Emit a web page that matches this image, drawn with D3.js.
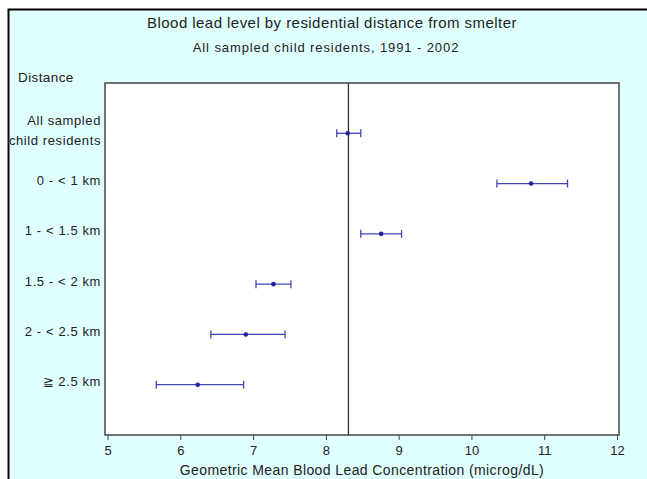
<!DOCTYPE html>
<html>
<head>
<meta charset="utf-8">
<script src="https://cdn.jsdelivr.net/npm/d3@7"></script>
<style>
  body { margin: 0; background: #fff; }
  svg { display: block; font-family: "Liberation Sans", Arial, sans-serif; }
</style>
</head>
<body>
<svg width="647" height="479"></svg>
<script>
// categories top to bottom
var distances = ["All sampled|child residents", "0 - < 1 km", "1 - < 1.5 km", "1.5 - < 2 km", "2 - < 2.5 km", "\u2267 2.5 km"];
// geometric mean and 95% CI (microg/dL)
var means = [8.30, 10.82, 8.76, 7.28, 6.90, 6.24];
var lower = [8.15, 10.35, 8.48, 7.04, 6.42, 5.67];
var upper = [8.48, 11.32, 9.04, 7.52, 7.44, 6.87];
var refValue = 8.31;
var xTicks = [5, 6, 7, 8, 9, 10, 11, 12];

var svg = d3.select("svg");

var plot = { left: 105, right: 619, top: 83, bottom: 435 };

// background panel
svg.append("rect")
    .attr("x", 8).attr("y", 9)
    .attr("width", 647).attr("height", 480)
    .attr("fill", "#e0ffff");
svg.append("path")
    .attr("d", "M8.5,479V9.5H647")
    .attr("fill", "none")
    .attr("stroke", "#000")
    .attr("stroke-width", 2);

svg.append("rect")
    .attr("x", plot.left).attr("y", plot.top)
    .attr("width", plot.right - plot.left).attr("height", plot.bottom - plot.top)
    .attr("fill", "#fff")
    .attr("stroke", "#444")
    .attr("stroke-width", 1.5);

var x = d3.scaleLinear().domain([5, 12]).range([107.5, 617]);
var y = d3.scalePoint().domain(distances).range([plot.top, plot.bottom]).padding(1);

// x axis
var xAxis = svg.append("g")
    .attr("transform", "translate(0," + plot.bottom + ")")
    .call(d3.axisBottom(x).tickValues(xTicks).tickSize(5).tickSizeOuter(0).tickFormat(d3.format("d")));
xAxis.select(".domain").remove();
xAxis.selectAll("line").attr("stroke", "#444");
xAxis.selectAll("text")
    .attr("font-size", 13)
    .attr("font-family", "Liberation Sans, Arial, sans-serif")
    .attr("fill", "#222")
    .attr("dy", "0.9em");

// y labels
distances.forEach(function(d) {
    var lines = d.split("|");
    var t = svg.append("text")
        .attr("x", 101)
        .attr("text-anchor", "end")
        .attr("font-size", 13)
        .attr("letter-spacing", 0.6)
        .attr("fill", "#222");
    lines.forEach(function(l, i) {
        t.append("tspan")
            .attr("x", 101)
            .attr("y", y(d) - 3 + (i - (lines.length - 1) / 2) * 20)
            .attr("dy", "0.35em")
            .text(l);
    });
});

// reference line
svg.append("line")
    .attr("x1", x(refValue)).attr("x2", x(refValue))
    .attr("y1", plot.top).attr("y2", plot.bottom)
    .attr("stroke", "#333")
    .attr("stroke-width", 1.3);

// error bars
var bars = svg.selectAll(".ci")
    .data(distances)
    .enter()
    .append("g")
    .attr("class", "ci");

bars.append("line")
    .attr("x1", (d, i) => x(lower[i])).attr("x2", (d, i) => x(upper[i]))
    .attr("y1", d => y(d)).attr("y2", d => y(d))
    .attr("stroke", "#4444b8").attr("stroke-width", 1.3);
bars.append("line")
    .attr("x1", (d, i) => x(lower[i])).attr("x2", (d, i) => x(lower[i]))
    .attr("y1", d => y(d) - 4).attr("y2", d => y(d) + 4)
    .attr("stroke", "#4444b8").attr("stroke-width", 1.3);
bars.append("line")
    .attr("x1", (d, i) => x(upper[i])).attr("x2", (d, i) => x(upper[i]))
    .attr("y1", d => y(d) - 4).attr("y2", d => y(d) + 4)
    .attr("stroke", "#4444b8").attr("stroke-width", 1.3);
bars.append("circle")
    .attr("cx", (d, i) => x(means[i]))
    .attr("cy", d => y(d))
    .attr("r", 2.3)
    .attr("fill", "#2222a0");

// titles
svg.append("text")
    .attr("x", 332).attr("y", 28)
    .attr("text-anchor", "middle")
    .attr("font-size", 15)
    .attr("letter-spacing", 0.45)
    .attr("fill", "#222")
    .text("Blood lead level by residential distance from smelter");
svg.append("text")
    .attr("x", 326).attr("y", 52)
    .attr("text-anchor", "middle")
    .attr("font-size", 13)
    .attr("letter-spacing", 0.9)
    .attr("fill", "#222")
    .text("All sampled child residents, 1991 - 2002");
svg.append("text")
    .attr("x", 18).attr("y", 82)
    .attr("font-size", 13.5)
    .attr("letter-spacing", 0.4)
    .attr("fill", "#222")
    .text("Distance");
svg.append("text")
    .attr("x", 362).attr("y", 475)
    .attr("text-anchor", "middle")
    .attr("font-size", 14)
    .attr("letter-spacing", 0.4)
    .attr("fill", "#222")
    .text("Geometric Mean Blood Lead Concentration (microg/dL)");
</script>
</body>
</html>
